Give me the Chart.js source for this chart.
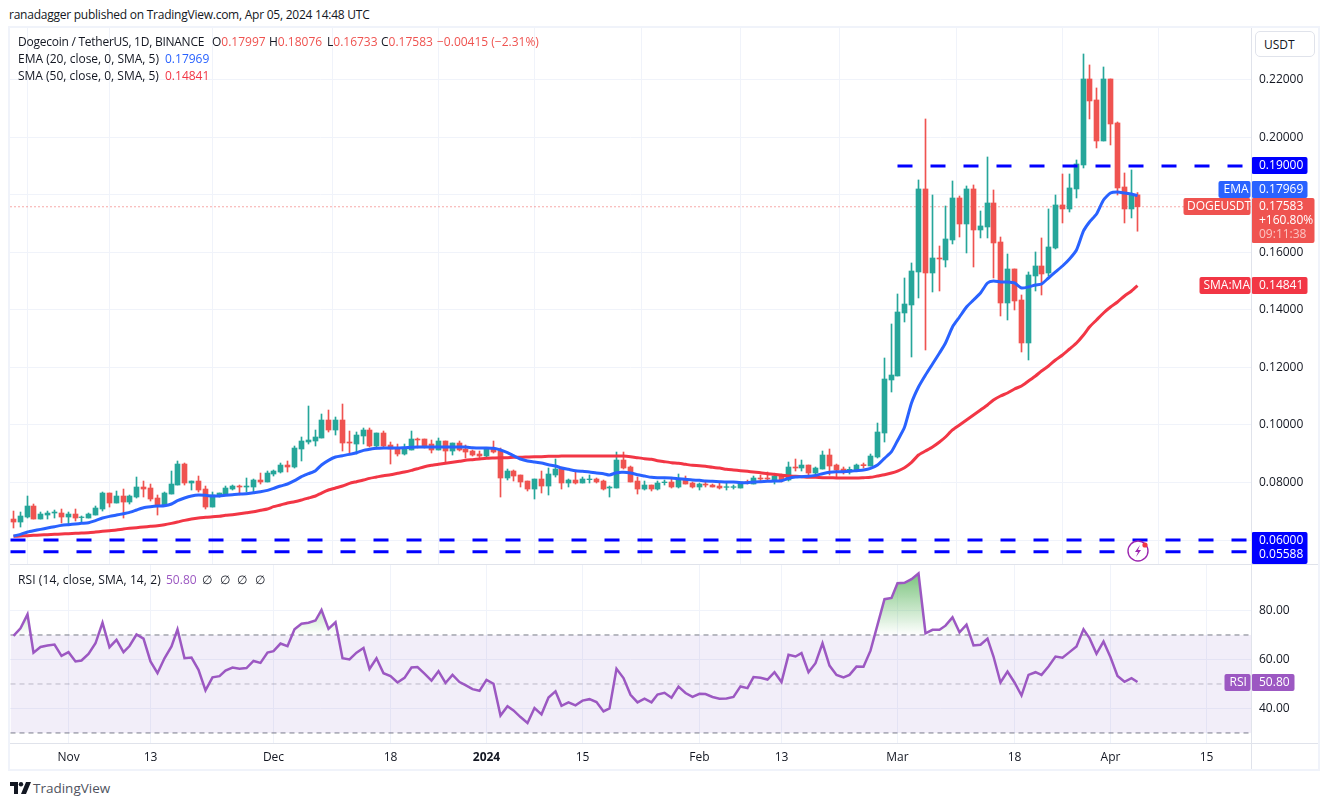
<!DOCTYPE html>
<html>
<head>
<meta charset="utf-8">
<title>Dogecoin / TetherUS</title>
<script src="https://cdn.jsdelivr.net/npm/chart.js@4"></script>
<style>
  html, body { margin: 0; padding: 0; background: #fff; width: 1329px; height: 806px; overflow: hidden; }
  body, canvas { font-family: "Open Sans", "Noto Sans", sans-serif; color: #131722; }
  canvas { position: absolute; }
  #price { left: 10px; top: 28px; }
  #rsi { left: 10px; top: 565px; }
  .abs { position: absolute; white-space: pre; font-size: 12px; line-height: 16px; z-index: 3; }
  .up { color: #ef5350; }
  .frame { position: absolute; left: 8px; top: 26px; width: 1312px; height: 745px; box-sizing: border-box; border: 2px solid #f0f3fa; z-index: 2; pointer-events: none; }
  .rule { position: absolute; background: #e0e3eb; z-index: 2; }
  #usdt { position: absolute; left: 1255px; top: 31px; width: 60px; height: 26px; box-sizing: border-box; border: 1px solid #e0e3eb; border-radius: 5px; font-size: 12px; line-height: 25px; padding-left: 8px; background: #fff; z-index: 3; }
</style>
</head>
<body>
<div class="abs" style="left:9px;top:7px;letter-spacing:-0.24px">ranadagger published on TradingView.com, Apr 05, 2024 14:48 UTC</div>
<div class="frame"></div>
<canvas id="price" width="1308" height="536"></canvas>
<canvas id="rsi" width="1308" height="205"></canvas>
<div class="rule" style="left:10px;top:564px;width:1308px;height:1px"></div>
<div class="rule" style="left:10px;top:743px;width:1308px;height:1px"></div>
<div class="rule" style="left:1251px;top:28px;width:1px;height:741px"></div>
<div id="usdt">USDT</div>

<div class="abs" style="left:18px;top:34px;letter-spacing:-0.25px">Dogecoin / TetherUS, 1D, BINANCE</div>
<div class="abs" style="left:212px;top:34px">O<span class="up">0.17997</span></div>
<div class="abs" style="left:269px;top:34px">H<span class="up">0.18076</span></div>
<div class="abs" style="left:327px;top:34px">L<span class="up">0.16733</span></div>
<div class="abs" style="left:381px;top:34px">C<span class="up">0.17583</span></div>
<div class="abs up" style="left:437px;top:34px">−0.00415 (−2.31%)</div>
<div class="abs" style="left:18px;top:51px">EMA (20, close, 0, SMA, 5)</div>
<div class="abs" style="left:165px;top:51px;color:#2962ff">0.17969</div>
<div class="abs" style="left:18px;top:68px">SMA (50, close, 0, SMA, 5)</div>
<div class="abs" style="left:165px;top:68px;color:#f23645">0.14841</div>
<div class="abs" style="left:18px;top:572px;letter-spacing:0.1px">RSI (14, close, SMA, 14, 2)</div>
<div class="abs" style="left:166px;top:572px;color:#9c58c2">50.80</div>
<div class="abs" style="left:202px;top:572px;word-spacing:4.5px">∅ ∅ ∅ ∅</div>

<!-- lightning icon on the price pane -->
<svg style="position:absolute;left:1126px;top:539px;z-index:3" width="24" height="24" viewBox="0 0 24 24">
  <circle cx="12" cy="12" r="10" fill="#fff" stroke="#9c27b0" stroke-width="1.4"/>
  <path d="M14 6 L9 13 L12 13 L10 18 L15 11 L12 11 Z" fill="#9c27b0"/>
  <circle cx="19" cy="6" r="2.6" fill="#f23645"/>
</svg>

<!-- TradingView mark -->
<svg style="position:absolute;left:10px;top:782px" width="21" height="12" viewBox="0 0 21 12">
  <path d="M0 0H8V12H4V4H0Z M16 0H21L16 12H11Z" fill="#131722"/>
  <circle cx="11" cy="2.2" r="2.2" fill="#131722"/>
</svg>
<div class="abs" style="left:33px;top:780px;font-size:13.5px;color:#50535e">TradingView</div>

<script>
// day 0 = 24 Oct 2023, last candle = 5 Apr 2024 (day 164)
const opens = [
  .06729,.06625,.06799,.07181,.06729,.06868,.06938,.06938,.06799,.06903,
  .06780,.06764,.06868,.07077,.07633,.07285,.07529,.07320,.07494,.07842,
  .07807,.07459,.07216,.07598,.07911,.08641,.07981,.08050,.07772,.07146,
  .07529,.07598,.07772,.07876,.07842,.07842,.08085,.08016,.08294,.08363,
  .08606,.08537,.09163,.09406,.09441,.09545,.10171,.09823,.10171,.09406,
  .09336,.09615,.09823,.09267,.09719,.09302,.09220,.08989,.09128,.09510,
  .09510,.09336,.09128,.09441,.09093,.09371,.09163,.09093,.08989,.08919,
  .09197,.09093,.08155,.08398,.08259,.08050,.07772,.08120,.07876,.08259,
  .08467,.07981,.08085,.07981,.08097,.08120,.08050,.07807,.07807,.08780,
  .08537,.08050,.07772,.07911,.07772,.07993,.08016,.07842,.08120,.07981,
  .07842,.07946,.07911,.07876,.07830,.07830,.07807,.08027,.07946,.08155,
  .08155,.08085,.08224,.08085,.08537,.08502,.08606,.08328,.08467,.08954,
  .08606,.08467,.08363,.08398,.08618,.08572,.08885,.09719,.11562,.11701,
  .13891,.14169,.15316,.18201,.15281,.15802,.15733,.16428,.17888,.16984,
  .18201,.16776,.16880,.17714,.16358,.14238,.15420,.14342,.12848,.15177,
  .15524,.15281,.16150,.17645,.17506,.18201,.19035,.22024,.21294,.19869,
  .22024,.20495,.18270,.17506,.17997
];
const highs = [
  .07007,.06973,.07529,.07251,.06973,.07007,.07042,.07077,.06973,.07077,
  .06834,.06938,.07181,.07668,.07633,.07703,.07772,.07564,.08189,.08050,
  .07946,.07564,.07668,.08398,.08746,.08676,.08050,.08224,.07876,.07668,
  .07633,.07876,.07911,.07911,.08155,.08120,.08328,.08398,.08433,.08676,
  .08746,.09267,.09580,.10657,.09823,.10379,.10518,.10275,.10727,.09788,
  .09754,.09893,.09893,.09719,.09788,.09406,.09336,.09336,.09788,.09545,
  .09510,.09476,.09545,.09441,.09371,.09441,.09302,.09128,.09093,.09197,
  .09441,.09197,.08467,.08433,.08259,.08050,.08120,.08398,.08502,.08815,
  .08537,.08120,.08398,.08189,.08259,.08155,.08085,.07876,.09058,.09058,
  .08572,.08189,.08050,.07911,.08050,.08085,.08155,.08294,.08224,.08016,
  .07981,.08016,.07946,.07981,.07981,.07911,.08016,.08085,.08224,.08259,
  .08363,.08294,.08294,.08711,.08815,.08780,.08606,.08537,.09093,.09163,
  .08641,.08537,.08537,.08641,.08676,.08989,.10066,.12326,.13508,.14551,
  .15107,.15629,.18514,.20634,.17992,.16219,.17610,.18479,.17957,.18305,
  .18340,.17436,.19313,.18166,.16532,.15941,.15420,.14516,.15316,.16011,
  .16498,.17506,.17992,.18722,.18722,.19209,.22893,.22511,.21712,.22441,
  .22024,.20530,.18757,.18861,.18076
];
const lows = [
  .06417,.06451,.06764,.06729,.06729,.06729,.06764,.06590,.06555,.06660,
  .06625,.06764,.06868,.07007,.07146,.07285,.06764,.07251,.07459,.07494,
  .07355,.06868,.07181,.07598,.07911,.07911,.07737,.07668,.07077,.07146,
  .07494,.07564,.07737,.07564,.07668,.07668,.07946,.08016,.08224,.08328,
  .08363,.08502,.08746,.09336,.09267,.09545,.09754,.09649,.09093,.09024,
  .08989,.09336,.09232,.09163,.09232,.08641,.08919,.08954,.09128,.09197,
  .09197,.09024,.09128,.08711,.08954,.09093,.08850,.08919,.08815,.08850,
  .09024,.07494,.08085,.08050,.07842,.07703,.07425,.07633,.07564,.08189,
  .07772,.07842,.07946,.07981,.07981,.07981,.07737,.07494,.07807,.08467,
  .08016,.07598,.07737,.07703,.07737,.07911,.07807,.07807,.07946,.07807,
  .07737,.07842,.07842,.07772,.07737,.07772,.07807,.07946,.07946,.08016,
  .08085,.07946,.08016,.08050,.08398,.08398,.08189,.08294,.08467,.08259,
  .08189,.08294,.08294,.08398,.08502,.08572,.08850,.09406,.11144,.11701,
  .13578,.12361,.14412,.12604,.14620,.14655,.15489,.16289,.16532,.15976,
  .15489,.16498,.16498,.15107,.13786,.13647,.13995,.12535,.12257,.14655,
  .14516,.15177,.16115,.17019,.17401,.17888,.18931,.20634,.19626,.19869,
  .19730,.17992,.17019,.17193,.16733
];
const closes = [
  .06625,.06834,.07181,.06729,.06903,.06938,.06973,.06799,.06903,.06764,
  .06799,.06903,.07112,.07633,.07285,.07529,.07320,.07529,.07842,.07772,
  .07425,.07216,.07633,.07946,.08641,.07981,.08050,.07737,.07146,.07564,
  .07633,.07807,.07876,.07842,.07876,.08085,.08016,.08328,.08398,.08606,
  .08537,.09197,.09441,.09476,.09580,.10171,.09823,.10171,.09371,.09371,
  .09649,.09823,.09267,.09719,.09267,.09163,.08989,.09163,.09510,.09476,
  .09267,.09128,.09441,.09093,.09371,.09128,.09058,.08954,.08919,.09197,
  .09058,.08155,.08398,.08224,.08016,.07772,.08120,.07876,.08294,.08467,
  .07981,.08085,.07981,.08120,.08120,.08016,.07772,.07842,.08780,.08502,
  .08016,.07772,.07911,.07772,.07981,.08016,.07842,.08120,.07946,.07842,
  .07946,.07911,.07842,.07807,.07853,.07853,.08016,.07993,.08155,.08120,
  .08120,.08224,.08085,.08537,.08502,.08606,.08328,.08502,.08954,.08572,
  .08433,.08363,.08456,.08606,.08583,.08919,.09754,.11596,.11735,.13925,
  .14203,.15350,.18201,.15281,.15802,.15768,.16463,.17888,.16984,.18201,
  .16776,.16915,.17714,.16324,.14238,.15420,.14308,.12848,.15211,.15524,
  .15246,.16185,.17645,.17506,.18236,.19070,.22024,.21260,.19869,.22024,
  .20460,.18236,.17506,.17992,.17583
];
const ema20 = [
  .06139,.06196,.06278,.06324,.06370,.06417,.06463,.06509,.06533,.06556,
  .06579,.06602,.06672,.06764,.06822,.06868,.06915,.06961,.07042,.07123,
  .07158,.07181,.07193,.07251,.07367,.07459,.07529,.07564,.07552,.07529,
  .07529,.07552,.07575,.07598,.07610,.07645,.07680,.07726,.07795,.07876,
  .07946,.08062,.08201,.08305,.08410,.08607,.08769,.08885,.08931,.08977,
  .09035,.09116,.09151,.09186,.09197,.09197,.09197,.09209,.09221,.09232,
  .09232,.09232,.09232,.09232,.09232,.09232,.09232,.09209,.09197,.09197,
  .09186,.09128,.09035,.08931,.08815,.08746,.08711,.08676,.08618,.08572,
  .08502,.08456,.08410,.08386,.08363,.08328,.08305,.08259,.08340,.08352,
  .08328,.08270,.08224,.08178,.08166,.08166,.08155,.08131,.08108,.08085,
  .08074,.08050,.08039,.08027,.08016,.08016,.07992,.07992,.08016,.08027,
  .08039,.08050,.08062,.08143,.08189,.08201,.08213,.08247,.08305,.08352,
  .08375,.08375,.08386,.08410,.08433,.08491,.08606,.08838,.09070,.09452,
  .09916,.10762,.11318,.11735,.12118,.12500,.12848,.13404,.13751,.14099,
  .14342,.14586,.14933,.15003,.14968,.14968,.14933,.14760,.14794,.14864,
  .14899,.15107,.15316,.15524,.15768,.16080,.16741,.17054,.17332,.17818,
  .18062,.18097,.18062,.18027,.17969
];
const sma50 = [
  .06127,.06138,.06150,.06162,.06173,.06185,.06196,.06208,.06220,.06231,
  .06243,.06254,.06277,.06301,.06324,.06347,.06382,.06405,.06428,.06451,
  .06474,.06498,.06532,.06579,.06625,.06683,.06729,.06764,.06787,.06810,
  .06822,.06857,.06880,.06915,.06950,.06984,.07031,.07077,.07158,.07216,
  .07286,.07332,.07390,.07459,.07529,.07633,.07737,.07807,.07876,.07969,
  .08027,.08085,.08143,.08189,.08236,.08270,.08317,.08363,.08421,.08479,
  .08549,.08595,.08630,.08664,.08699,.08734,.08769,.08792,.08815,.08838,
  .08850,.08861,.08861,.08873,.08873,.08885,.08896,.08896,.08908,.08908,
  .08919,.08919,.08919,.08919,.08919,.08919,.08919,.08919,.08919,.08919,
  .08896,.08861,.08827,.08804,.08757,.08722,.08688,.08664,.08630,.08595,
  .08583,.08560,.08525,.08502,.08456,.08433,.08410,.08386,.08363,.08340,
  .08305,.08282,.08247,.08224,.08213,.08201,.08178,.08178,.08166,.08166,
  .08155,.08155,.08155,.08155,.08166,.08178,.08224,.08270,.08328,.08398,
  .08514,.08699,.08954,.09093,.09233,.09406,.09580,.09824,.09997,.10171,
  .10345,.10519,.10693,.10866,.11005,.11110,.11249,.11353,.11527,.11701,
  .11874,.12048,.12257,.12431,.12639,.12848,.13126,.13404,.13647,.13891,
  .14099,.14273,.14481,.14655,.14841
];
const rsiValues = [
  69.6,72.7,78.4,62.8,65.1,65.7,66.1,61.5,63.0,59.2,
  59.6,62.3,66.6,75.0,65.0,68.0,63.0,65.5,70.2,68.5,
  59.2,54.4,60.5,65.3,72.3,60.5,60.8,55.8,47.4,52.7,
  53.2,55.5,56.7,56.2,56.5,59.4,58.6,62.8,63.4,66.5,
  65.4,72.3,74.6,75.0,75.9,80.2,72.5,75.2,60.5,60.0,
  62.8,64.7,56.1,60.5,54.4,53.2,50.6,52.5,56.7,56.9,
  54.2,51.4,55.2,50.4,53.7,50.8,49.5,47.9,47.2,51.7,
  50.1,37.1,40.9,39.2,36.5,34.1,40.2,37.6,44.5,47.0,
  41.1,42.5,41.3,43.2,43.8,42.6,38.8,40.0,56.2,52.4,
  45.6,42.5,44.0,42.5,45.7,46.4,44.4,48.9,46.3,44.7,
  46.0,45.9,44.7,44.0,44.1,44.7,49.0,48.3,52.8,52.5,
  51.8,54.8,50.8,61.9,61.2,62.6,54.8,58.5,66.6,57.5,
  53.7,52.7,53.7,57.1,57.0,63.6,74.1,84.6,85.1,91.1,
  91.3,92.8,95.1,70.7,72.1,72.1,73.8,77.2,71.1,74.2,
  65.7,66.0,68.5,61.2,50.6,55.1,50.6,45.3,53.7,54.8,
  53.7,57.1,61.2,60.7,63.0,65.3,72.3,68.7,62.3,67.3,
  60.9,53.3,50.9,52.4,50.8
];

const dayTicks = [8, 20, 38, 55, 69, 83, 100, 112, 129, 146, 160, 174];
const tickLabels = ['Nov', '13', 'Dec', '18', '2024', '15', 'Feb', '13', 'Mar', '18', 'Apr', '15'];
const priceTicks = [0.06, 0.08, 0.10, 0.12, 0.14, 0.16, 0.18, 0.20, 0.22];
const rsiTicks = [40, 60, 80];

const resistance = 0.19;
const resistanceFromDay = 129;
const supportLevels = [0.06, 0.05588];
const lastClose = 0.17583;
const lastEma = 0.17969;
const lastSma = 0.14841;
const lastRsi = 50.80;

const firstEdge = -0.5;
const lastEdge = 180.5;

const UP = '#26a69a', DOWN = '#ef5350', GRID = '#f0f3fa';
const FONT = '"Open Sans", "Noto Sans", sans-serif';
Chart.defaults.font.family = FONT;
Chart.defaults.font.size = 12;
Chart.defaults.color = '#131722';

const pts = arr => arr.map((y, x) => ({x, y}));
const isUp = i => closes[i] >= opens[i];
const candleColor = ctx => isUp(ctx.dataIndex) ? UP : DOWN;

// snap day positions to whole pixels so bodies and wicks stay crisp
function crispX(scale) {
  const raw = scale.getPixelForValue.bind(scale);
  scale.getPixelForValue = v => Math.floor(raw(v)) + 0.5;
}

function noPadding(s) {
  s.paddingTop = s.paddingBottom = s.paddingLeft = s.paddingRight = 0;
}

function xAxis(showLabels, height) {
  return {
    type: 'linear', min: firstEdge, max: lastEdge, offset: false,
    grid: {color: GRID, drawTicks: false},
    border: {display: false},
    afterBuildTicks: s => { s.ticks = dayTicks.map(value => ({value})); },
    afterFit: s => { s.height = height; noPadding(s); },
    afterUpdate: crispX,
    ticks: {
      display: showLabels, autoSkip: false, maxRotation: 0, padding: 7,
      color: '#131722',
      font: c => ({weight: c.tick && c.tick.value === 69 ? 'bold' : 'normal'}),
      callback: (v, i) => tickLabels[i]
    }
  };
}

function yAxis(min, max, ticks, fmt) {
  return {
    type: 'linear', position: 'right', min, max,
    grid: {color: GRID, drawTicks: false},
    border: {display: false},
    afterBuildTicks: s => { s.ticks = ticks.map(value => ({value})); },
    afterFit: s => { s.width = 67; noPadding(s); },
    ticks: {padding: 8, autoSkip: false, callback: fmt}
  };
}

function badge(ctx, x, y, w, h, color, lines, pad) {
  ctx.fillStyle = color;
  ctx.beginPath();
  ctx.roundRect(x, y, w, h, 2);
  ctx.fill();
  ctx.font = '12px ' + FONT;
  ctx.textBaseline = 'middle';
  ctx.textAlign = 'left';
  lines.forEach((l, i) => {
    ctx.fillStyle = l.color || '#fff';
    ctx.fillText(l.text, x + (pad || 7.5), y + 8.5 + i * 14.2);
  });
}

const priceBadges = {
  id: 'priceBadges',
  afterDraw(chart) {
    const {ctx, chartArea: a, scales: {y}} = chart;
    const ax = a.right + 0.5;
    const top = v => Math.round(y.getPixelForValue(v) - 8.5);
    // the EMA label sits directly on top of the last-price label, as the platform stacks them
    const emaTop = top(lastClose) - 17;
    ctx.save();
    badge(ctx, ax, top(resistance), 56, 17, '#0000ff', [{text: resistance.toFixed(5)}]);
    badge(ctx, ax - 33, emaTop, 32, 17, '#2962ff', [{text: 'EMA'}], 5);
    badge(ctx, ax, emaTop, 56, 17, '#2962ff', [{text: lastEma.toFixed(5)}]);
    badge(ctx, ax - 68, top(lastClose), 67, 17, DOWN, [{text: 'DOGEUSDT'}], 3.5);
    badge(ctx, ax, top(lastClose), 63, 45, DOWN, [
      {text: lastClose.toFixed(5)}, {text: '+160.80%'}, {text: '09:11:38', color: '#fbc4c2'}
    ]);
    badge(ctx, ax - 52, top(lastSma), 51, 17, '#f23645', [{text: 'SMA:MA'}], 4);
    badge(ctx, ax, top(lastSma), 56, 17, '#f23645', [{text: lastSma.toFixed(5)}]);
    const t = top(supportLevels[0]);
    badge(ctx, ax, t, 56, 32, '#0000ff', [
      {text: supportLevels[0].toFixed(5)}, {text: supportLevels[1].toFixed(5)}
    ]);
    ctx.restore();
  }
};

const rsiBadges = {
  id: 'rsiBadges',
  afterDraw(chart) {
    const {ctx, chartArea: a, scales: {y}} = chart;
    const ax = a.right + 0.5;
    const t = Math.round(y.getPixelForValue(lastRsi) - 8.5);
    ctx.save();
    badge(ctx, ax - 27, t, 26, 17, '#9c58c2', [{text: 'RSI'}], 5);
    badge(ctx, ax, t, 43, 17, '#9c58c2', [{text: lastRsi.toFixed(2)}]);
    ctx.restore();
  }
};

function levelLine(y, from) {
  return {
    type: 'line', order: 0,
    data: [{x: from, y}, {x: lastEdge, y}],
    borderColor: '#0000ff', borderWidth: 3, borderDash: [15, 18],
    borderCapStyle: 'butt', pointRadius: 0
  };
}

new Chart(document.getElementById('price'), {
  data: {
    datasets: [
      {
        type: 'bar', order: 5, grouped: false, barThickness: 1,
        data: highs.map((h, i) => ({x: i, y: [lows[i], h]})),
        backgroundColor: candleColor, borderWidth: 0
      },
      {
        type: 'bar', order: 4, grouped: false, barThickness: 5,
        data: opens.map((o, i) => ({x: i, y: [o, closes[i]]})),
        backgroundColor: candleColor, borderWidth: 0
      },
      {
        type: 'line', order: 6,
        data: [{x: firstEdge, y: lastClose}, {x: lastEdge, y: lastClose}],
        borderColor: DOWN, borderWidth: 1, borderDash: [1, 3], pointRadius: 0
      },
      {type: 'line', order: 2, data: pts(sma50), borderColor: '#f23645', borderWidth: 3, pointRadius: 0, tension: 0.2},
      {type: 'line', order: 1, data: pts(ema20), borderColor: '#2962ff', borderWidth: 3, pointRadius: 0, tension: 0.2},
      levelLine(resistance, resistanceFromDay),
      levelLine(supportLevels[0], firstEdge),
      levelLine(supportLevels[1], firstEdge)
    ]
  },
  options: {
    responsive: false, animation: false,
    layout: {padding: 0, autoPadding: false},
    plugins: {legend: {display: false}, tooltip: {enabled: false}},
    scales: {
      x: xAxis(false, 0),
      y: yAxis(0.05166, 0.23796, priceTicks, v => v.toFixed(5))
    }
  },
  plugins: [priceBadges]
});

const rsiCanvas = document.getElementById('rsi');
const overbought = rsiCanvas.getContext('2d').createLinearGradient(0, 8, 0, 70);
overbought.addColorStop(0, 'rgba(76,175,80,0.75)');
overbought.addColorStop(1, 'rgba(76,175,80,0)');

function rsiLevel(y, color) {
  return {
    type: 'line', order: 4,
    data: [{x: firstEdge, y}, {x: lastEdge, y}],
    borderColor: color, borderWidth: 1, borderDash: [5, 4], pointRadius: 0
  };
}

new Chart(rsiCanvas, {
  data: {
    datasets: [
      {
        ...rsiLevel(70, '#787b86'),
        fill: {value: 30}, backgroundColor: 'rgba(126,87,194,0.1)'
      },
      rsiLevel(50, 'rgba(120,123,134,0.45)'),
      rsiLevel(30, '#787b86'),
      {
        type: 'line', order: 1, data: pts(rsiValues),
        borderColor: '#9c58c2', borderWidth: 2.5, pointRadius: 0, tension: 0,
        fill: {target: {value: 70}, above: overbought, below: 'rgba(0,0,0,0)'}
      }
    ]
  },
  options: {
    responsive: false, animation: false,
    layout: {padding: 0, autoPadding: false},
    plugins: {legend: {display: false}, tooltip: {enabled: false}},
    scales: {
      x: xAxis(true, 27),
      y: yAxis(25.9, 98.57, rsiTicks, v => v.toFixed(2))
    }
  },
  plugins: [rsiBadges]
});
</script>
</body>
</html>
